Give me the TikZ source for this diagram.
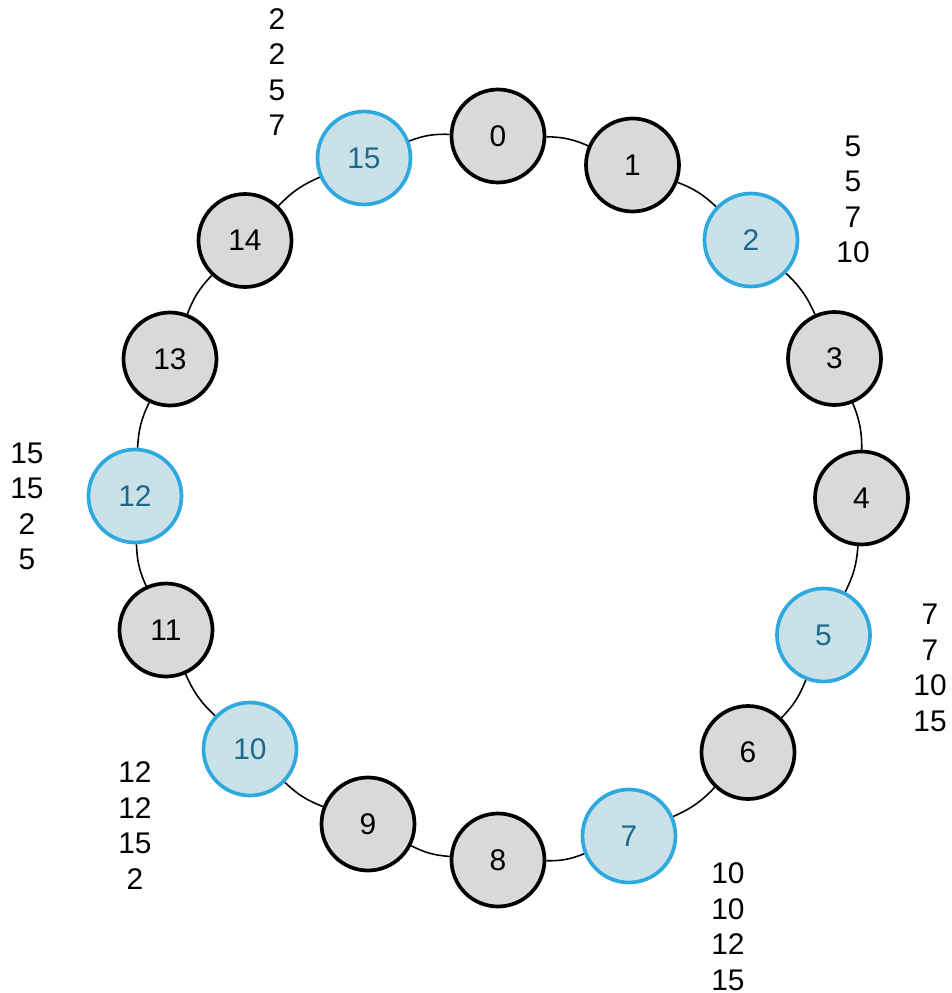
\documentclass[tikz,border=0pt]{standalone}
\usepackage{fontspec}
\setmainfont{Liberation Sans}
\usetikzlibrary{positioning}
\definecolor{peergray}{HTML}{D9D9D9}
\definecolor{liveblue}{HTML}{2EA9DF}
\definecolor{livefill}{HTML}{CAE1E8}
\definecolor{livetext}{HTML}{1B6A8C}
\tikzset{
  peer/.style={circle, draw, line width=2.1pt, fill=peergray, minimum size=1.86cm, inner sep=0pt, font=\fontsize{17}{20}\selectfont},
  live/.style={peer, draw=liveblue, fill=livefill, text=livetext},
  ring/.style={line width=0.9pt},
  fingers/.style={align=center, inner sep=0pt, font=\fontsize{17}{20.2}\selectfont},
}

\begin{document}
\begin{tikzpicture}
    \useasboundingbox (-9.96,-9.90) rectangle (9.06,9.96);
    % sixteen peers round the ring, live ones in blue
    \foreach \i/\s/\x/\y in {0/peer/0/7.24, 1/peer/2.69/6.66, 2/live/5.06/5.16, 3/peer/6.73/2.79,
                             4/peer/7.27/0, 5/live/6.51/-2.74, 6/peer/5.00/-5.09, 7/live/2.62/-6.76,
                             8/peer/0/-7.24, 9/peer/-2.60/-6.52, 10/live/-4.96/-5.02, 11/peer/-6.64/-2.64,
                             12/live/-7.26/0.04, 13/peer/-6.56/2.78, 14/peer/-5.06/5.15, 15/live/-2.68/6.80}
      \node[\s] (n\i) at (\x,\y) {\i};
    \foreach \i [evaluate=\i as \j using {int(mod(\i+1,16))}] in {0,...,15}
      \draw[ring] (n\i) to[bend left=11.25] (n\j);
    % finger tables
    \node[fingers] (t2) at (7.10,5.97) {5\\5\\7\\10};
    \node[fingers] (t5) at (8.64,-3.40) {7\\7\\10\\15};
    \node[fingers] (t7) at (4.60,-8.57) {10\\10\\12\\15};
    \node[fingers] (t10) at (-7.26,-6.55) {12\\12\\15\\2};
    \node[fingers] (t12) at (-9.42,-0.17) {15\\15\\2\\5};
    \node[fingers] (t15) at (-4.42,8.52) {2\\2\\5\\7};
\end{tikzpicture}
\end{document}
